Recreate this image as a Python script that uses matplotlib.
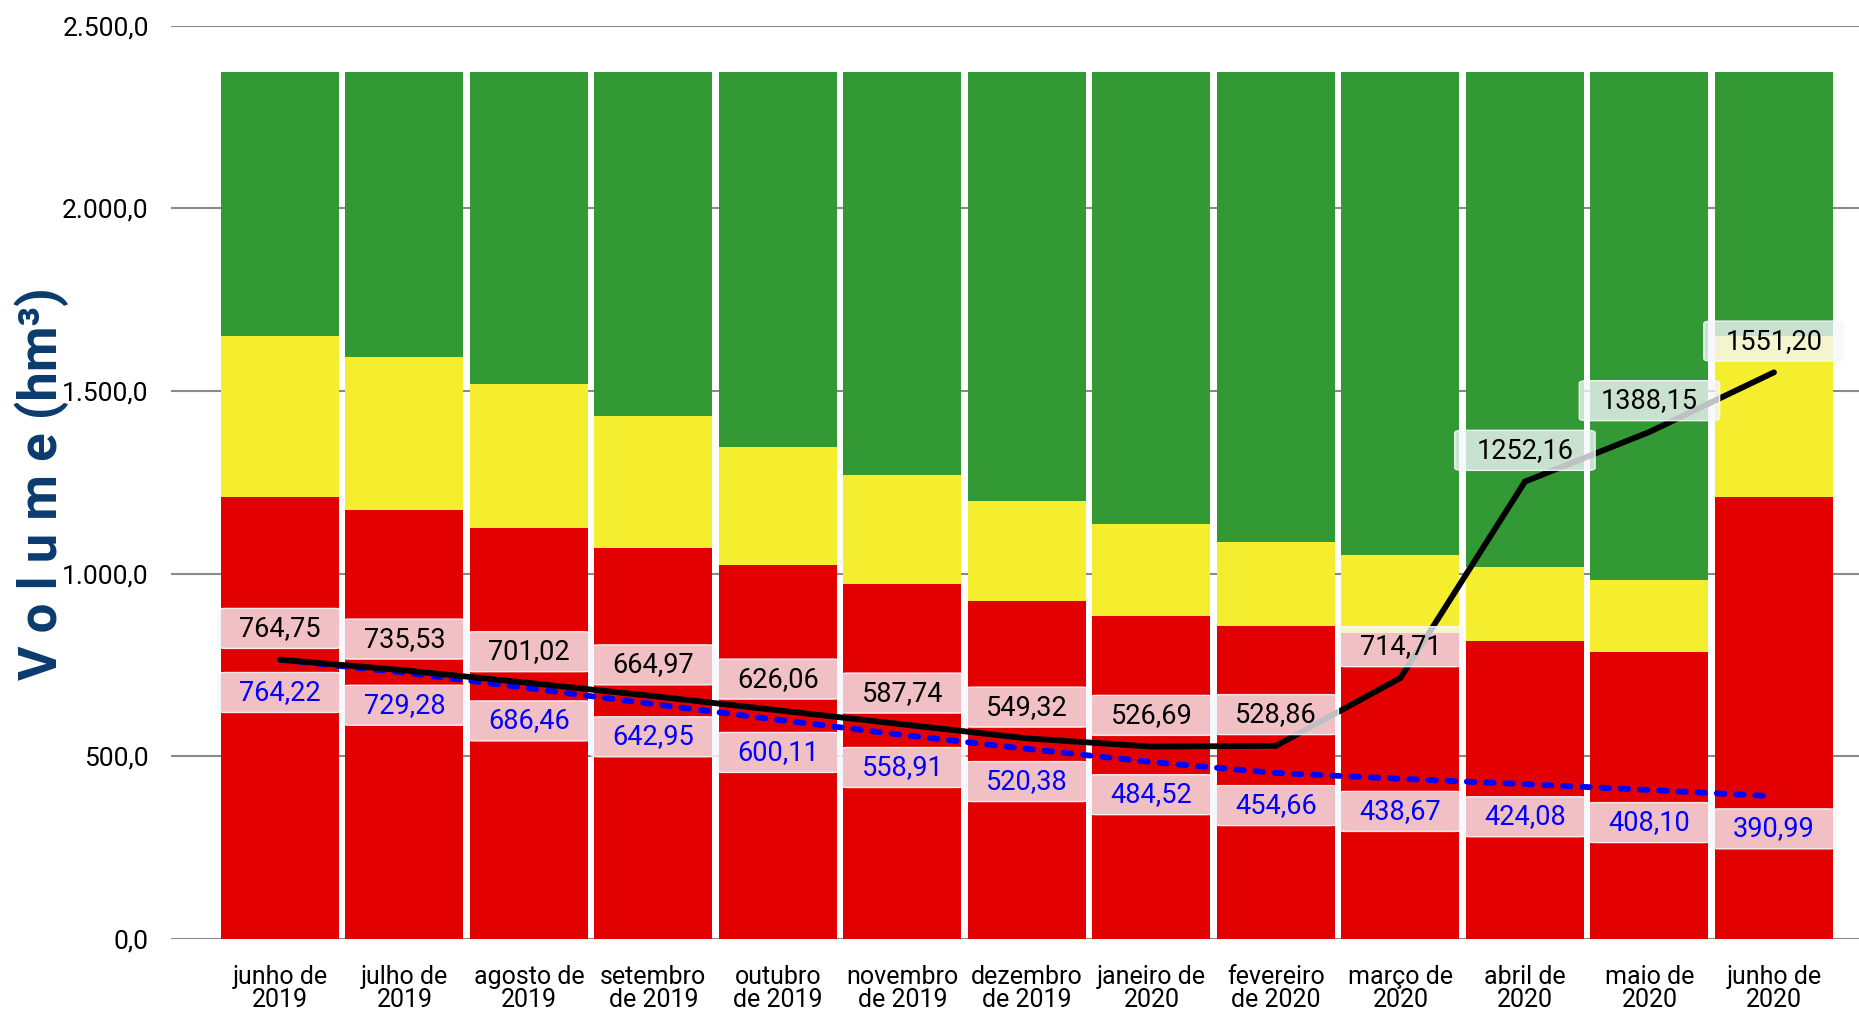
import numpy as np
import matplotlib.pyplot as plt

months = ["junho de\n2019", "julho de\n2019", "agosto de\n2019", "setembro\nde 2019",
          "outubro\nde 2019", "novembro\nde 2019", "dezembro\nde 2019", "janeiro de\n2020",
          "fevereiro\nde 2020", "março de\n2020", "abril de\n2020", "maio de\n2020",
          "junho de\n2020"]

# faixas de referência (hm³): limite da faixa vermelha, amarela e capacidade
red_top = [1211, 1175, 1126, 1071, 1023, 971, 925, 885, 857, 838, 815, 786, 1211]
yellow_top = [1652, 1594, 1519, 1432, 1347, 1269, 1198, 1136, 1088, 1051, 1018, 983, 1652]
capacity = [2373] * 13

# volume observado e volume simulado
observed = [764.75, 735.53, 701.02, 664.97, 626.06, 587.74, 549.32, 526.69, 528.86,
            714.71, 1252.16, 1388.15, 1551.20]
simulated = [764.22, 729.28, 686.46, 642.95, 600.11, 558.91, 520.38, 484.52, 454.66,
             438.67, 424.08, 408.10, 390.99]

plt.rcParams["font.family"] = ["Roboto", "DejaVu Sans"]

red = np.array(red_top)
yellow = np.array(yellow_top) - red
green = np.array(capacity) - np.array(yellow_top)

x = np.arange(len(months))

fig = plt.figure(figsize=(18.59, 10.13), dpi=100)
ax = fig.add_axes([0.0920, 0.0730, 0.9080, 0.9016])

w = 0.948
ax.bar(x, red, w, color="#E20000", zorder=2)
ax.bar(x, yellow, w, bottom=red, color="#F4EE2E", zorder=2)
ax.bar(x, green, w, bottom=red + yellow, color="#339934", zorder=2)

sim_line, = ax.plot(x, simulated, color="#0000FF", lw=4.2, ls="--",
                    dash_capstyle="round", zorder=3)
sim_line.set_dashes([1.3, 2.0])
ax.plot(x, observed, color="black", lw=4.2, solid_capstyle="round",
        solid_joinstyle="miter", zorder=4)

box = dict(boxstyle="round,pad=0.8,rounding_size=0.3", mutation_aspect=0.3,
           fc=(0.96, 0.97, 0.99, 0.78), ec=(0.97, 0.98, 1.0, 0.9), lw=1)


def fmt(v):
    return f"{v:.2f}".replace(".", ",")


for xi, v in zip(x, observed):
    ax.annotate(fmt(v), (xi, v), xytext=(0, 22.5), textcoords="offset points",
                ha="center", va="center", fontsize=19.5, color="black",
                bbox=box, zorder=6)
for xi, v in zip(x, simulated):
    ax.annotate(fmt(v), (xi, v), xytext=(0, -23.5), textcoords="offset points",
                ha="center", va="center", fontsize=19.5, color="#0000FF",
                bbox=box, zorder=6)

ax.set_xlim(-0.875, 12.683)
ax.set_ylim(0, 2500)
ticks = np.arange(0, 2501, 500)
ax.set_yticks(ticks)
ax.set_yticklabels([f"{t:,.1f}".replace(",", "X").replace(".", ",").replace("X", ".")
                    for t in ticks])
ax.set_xticks(x)
ax.set_xticklabels(months, linespacing=0.95)
ax.tick_params(axis="y", length=0, pad=16, labelsize=19)
ax.tick_params(axis="x", length=0, pad=19, labelsize=18)

ax.set_axisbelow(True)
ax.yaxis.grid(True, color="#8A8A8A", lw=1.5)
for s in ax.spines.values():
    s.set_visible(False)

fig.text(42 / 1859, 1 - 484 / 1013, "V o l u m e (hm³)", rotation=90,
         ha="center", va="center", fontsize=38, fontweight="bold", color="#0B3A6E")

fig.savefig("out.png", dpi=100)
